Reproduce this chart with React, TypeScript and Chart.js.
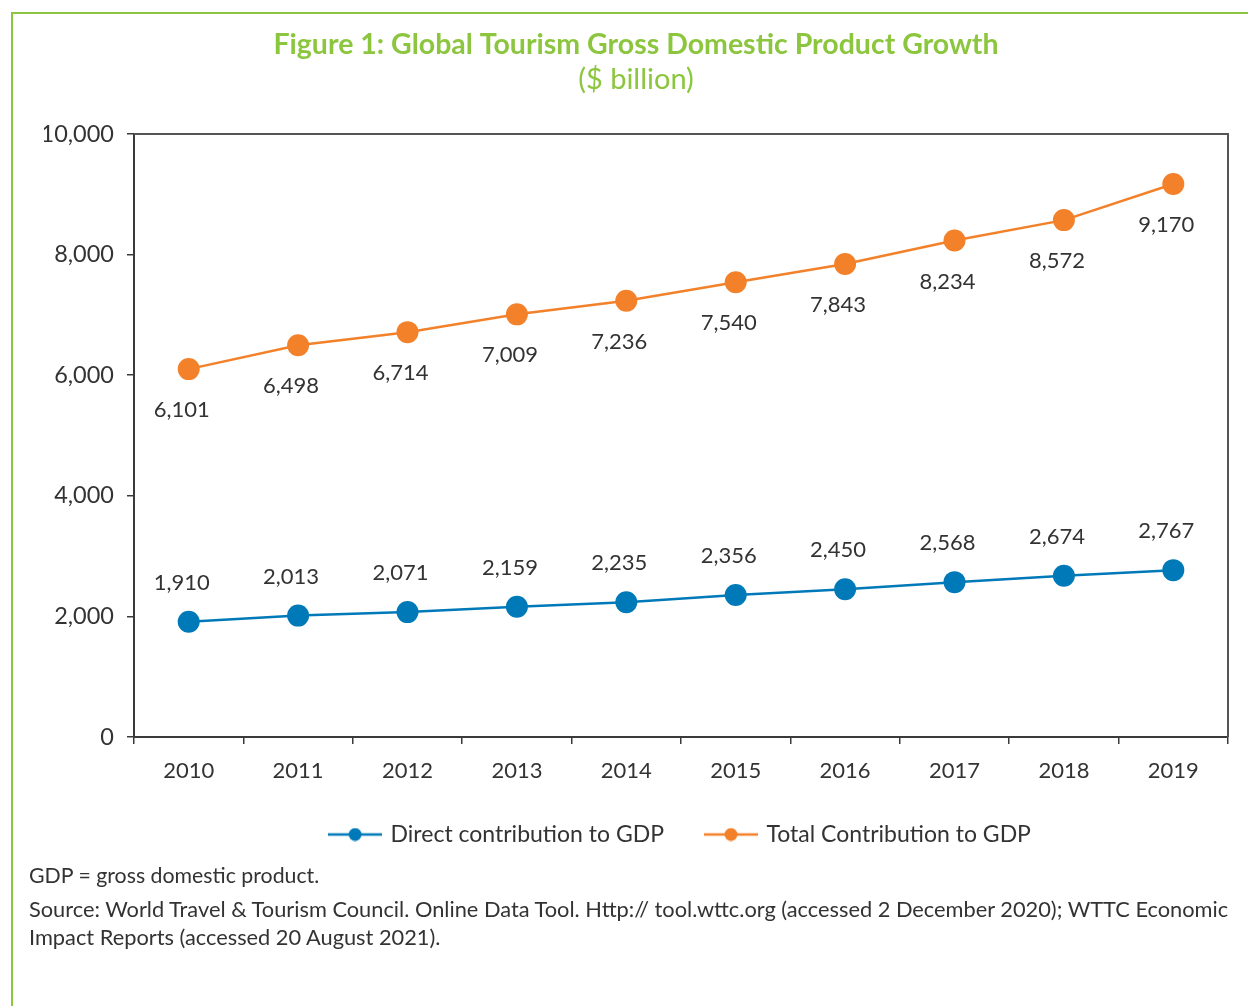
import React, { useEffect, useRef } from "react";
import { Chart, registerables } from "chart.js";

Chart.register(...registerables);

const years = ["2010", "2011", "2012", "2013", "2014", "2015", "2016", "2017", "2018", "2019"];
const directContribution = [1910, 2013, 2071, 2159, 2235, 2356, 2450, 2568, 2674, 2767];
const totalContribution = [6101, 6498, 6714, 7009, 7236, 7540, 7843, 8234, 8572, 9170];
const yTickValues = [0, 2000, 4000, 6000, 8000, 10000];
const seriesNames = ["Direct contribution to GDP", "Total Contribution to GDP"];

const FONT = "Lato, 'Open Sans', sans-serif";
const TEXT = "#333333";
const GREEN = "#8CC63F";
const BLUE = "#0079B8";
const ORANGE = "#F3812A";
const AXIS = "#3a3a3a";

function legendIcon(color: string): HTMLCanvasElement {
  const c = document.createElement("canvas");
  c.width = 54;
  c.height = 14;
  const g = c.getContext("2d")!;
  g.strokeStyle = color;
  g.lineWidth = 2.5;
  g.beginPath();
  g.moveTo(0, 7);
  g.lineTo(54, 7);
  g.stroke();
  g.fillStyle = color;
  g.beginPath();
  g.arc(27, 7, 6.5, 0, Math.PI * 2);
  g.fill();
  return c;
}

const valueLabels = {
  id: "valueLabels",
  afterDatasetsDraw(chart: any) {
    const ctx = chart.ctx;
    ctx.save();
    ctx.font = `22px ${FONT}`;
    ctx.fillStyle = TEXT;
    ctx.textAlign = "center";
    ctx.textBaseline = "middle";
    chart.data.datasets.forEach((ds: any, i: number) => {
      const meta = chart.getDatasetMeta(i);
      const above = i === 0;
      meta.data.forEach((pt: any, j: number) => {
        const v = ds.data[j] as number;
        ctx.fillText(v.toLocaleString("en-US"), pt.x - 7, pt.y + (above ? -39 : 41));
      });
    });
    ctx.restore();
  },
};

const plotFrame = {
  id: "plotFrame",
  beforeDatasetsDraw(chart: any) {
    const { ctx, chartArea } = chart;
    ctx.save();
    ctx.strokeStyle = "#555555";
    ctx.lineWidth = 2;
    ctx.beginPath();
    ctx.moveTo(chartArea.left, chartArea.top);
    ctx.lineTo(chartArea.right, chartArea.top);
    ctx.lineTo(chartArea.right, chartArea.bottom);
    ctx.stroke();
    ctx.restore();
  },
};

export default function App() {
  const ref = useRef<HTMLCanvasElement | null>(null);

  useEffect(() => {
    if (!ref.current) return;
    const icons = [legendIcon(BLUE), legendIcon(ORANGE)];
    const chart = new Chart(ref.current, {
      type: "line",
      data: {
        labels: years,
        datasets: [
          {
            label: seriesNames[0],
            data: directContribution,
            borderColor: BLUE,
            backgroundColor: BLUE,
            borderWidth: 2.5,
            pointRadius: 11,
            pointHoverRadius: 11,
            pointBorderWidth: 0,
            tension: 0,
          },
          {
            label: seriesNames[1],
            data: totalContribution,
            borderColor: ORANGE,
            backgroundColor: ORANGE,
            borderWidth: 2.5,
            pointRadius: 11,
            pointHoverRadius: 11,
            pointBorderWidth: 0,
            tension: 0,
          },
        ],
      },
      options: {
        animation: false,
        responsive: false,
        maintainAspectRatio: false,
        layout: { padding: { top: 0, left: 44, right: 20, bottom: 150 } },
        plugins: {
          title: {
            display: true,
            text: "Figure 1: Global Tourism Gross Domestic Product Growth",
            color: GREEN,
            font: { family: FONT, size: 28.5, weight: "bold" },
            padding: { top: 28, bottom: 0 },
          },
          subtitle: {
            display: true,
            text: "($ billion)",
            color: GREEN,
            font: { family: FONT, size: 29, weight: "normal" },
            padding: { top: 0, bottom: 37 },
          },
          legend: {
            position: "bottom",
            fullSize: false,
            labels: {
              usePointStyle: true,
              pointStyleWidth: 48,
              padding: 43,
              color: TEXT,
              font: { family: FONT, size: 23 },
              generateLabels: (chart: any) => {
                const items = Chart.defaults.plugins.legend.labels.generateLabels(chart);
                return items.map((it: any, i: number) => ({ ...it, pointStyle: icons[i] }));
              },
            },
          },
          tooltip: { enabled: false },
        },
        scales: {
          x: {
            type: "category",
            offset: true,
            grid: {
              offset: true,
              drawOnChartArea: false,
              drawTicks: true,
              tickLength: 7,
              color: AXIS,
              lineWidth: 1.5,
            },
            border: { display: true, color: AXIS, width: 2 },
            ticks: { color: TEXT, font: { family: FONT, size: 22 }, padding: 14, maxRotation: 0 },
            afterFit: (s: any) => {
              s.height = 43;
            },
          },
          y: {
            min: 0,
            max: 10000,
            afterBuildTicks: (s: any) => {
              s.ticks = yTickValues.map((v) => ({ value: v }));
            },
            grid: {
              drawOnChartArea: false,
              drawTicks: true,
              tickLength: 7,
              color: AXIS,
              lineWidth: 1.5,
            },
            border: { display: true, color: AXIS, width: 2 },
            ticks: {
              color: TEXT,
              font: { family: FONT, size: 23.5 },
              padding: 13,
              callback: (v: any) => Number(v).toLocaleString("en-US"),
            },
            afterFit: (s: any) => {
              s.width = 90;
            },
          },
        },
      },
      plugins: [valueLabels, plotFrame],
    });
    return () => chart.destroy();
  }, []);

  return (
    <div style={{ position: "absolute", left: 0, top: 0, width: 1248, height: 1006, overflow: "hidden", background: "#ffffff" }}>
      <div
        style={{
          position: "absolute",
          left: 11,
          top: 12,
          width: 1248,
          height: 1006,
          borderTop: `2px solid ${GREEN}`,
          borderLeft: `2px solid ${GREEN}`,
        }}
      />
      <canvas ref={ref} width={1248} height={1006} style={{ position: "absolute", left: 0, top: 0, width: 1248, height: 1006 }} />
      <div
        style={{
          position: "absolute",
          left: 29,
          top: 861,
          width: 1215,
          fontFamily: FONT,
          color: TEXT,
          lineHeight: "28px",
          whiteSpace: "nowrap",
        }}
      >
        <div style={{ marginBottom: 6, fontSize: 21.3 }}>GDP = gross domestic product.</div>
        <div style={{ fontSize: 21.8 }}>
          Source: World Travel &amp; Tourism Council. Online Data Tool. Http:// tool.wttc.org (accessed 2 December 2020); WTTC Economic
          <br />
          Impact Reports (accessed 20 August 2021).
        </div>
      </div>
    </div>
  );
}
